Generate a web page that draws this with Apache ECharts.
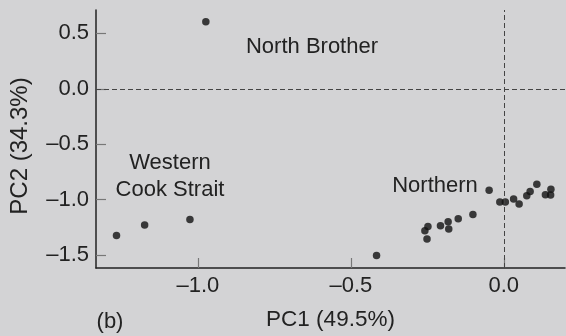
<!DOCTYPE html>
<html>
<head>
<meta charset="utf-8">
<script src="https://cdn.jsdelivr.net/npm/echarts@6/dist/echarts.min.js"></script>
<style>
  html, body { margin: 0; padding: 0; background: #d3d3d5; }
  #chart { width: 566px; height: 336px; }
</style>
</head>
<body>
<div id="chart"></div>
<script>
// PCA scores: first two principal components per sample
const pc1 = [-0.974, -1.266, -1.174, -1.026, -0.416, -0.251, -0.258, -0.248, -0.207,
             -0.182, -0.180, -0.149, -0.101, -0.048, -0.013, 0.005, 0.032, 0.050,
             0.075, 0.086, 0.108, 0.136, 0.154, 0.153];
const pc2 = [0.604, -1.324, -1.229, -1.179, -1.503, -1.354, -1.280, -1.241, -1.235,
             -1.199, -1.265, -1.173, -1.134, -0.914, -1.021, -1.021, -0.994, -1.039,
             -0.964, -0.926, -0.860, -0.955, -0.905, -0.958];
const xTicks = [-1.0, -0.5, 0.0];
const yTicks = [-1.5, -1.0, -0.5, 0.0, 0.5];
const xTitle = 'PC1 (49.5%)';
const yTitle = 'PC2 (34.3%)';
const groupLabels = ['North Brother', 'Western\nCook Strait', 'Northern'];
const panelTag = '(b)';

const FONT = "'Liberation Sans', Arial, Helvetica, sans-serif";
const TXT = '#222';
const fmt = v => (v < 0 ? '\u2013' : '') + Math.abs(v).toFixed(1);

const points = pc1.map((x, i) => [x, pc2[i]]);

const chart = echarts.init(document.getElementById('chart'));
chart.setOption({
  backgroundColor: '#d3d3d5',
  animation: false,
  grid: { left: 96, right: 1, top: 10, bottom: 65 },
  xAxis: {
    type: 'value', min: -1.333, max: 0.2,
    splitLine: { show: false },
    axisLine: { show: true, onZero: false, lineStyle: { color: '#222', width: 1.5 } },
    axisTick: { show: true, inside: true, length: 10, customValues: xTicks, lineStyle: { color: '#777', width: 1.2 } },
    axisLabel: { customValues: xTicks, formatter: fmt, fontFamily: FONT, fontSize: 22, color: TXT, margin: 7 },
    name: xTitle, nameLocation: 'middle', nameGap: 40,
    nameTextStyle: { fontFamily: FONT, fontSize: 22.5, color: TXT }
  },
  yAxis: {
    type: 'value', min: -1.616, max: 0.71,
    splitLine: { show: false },
    axisLine: { show: true, onZero: false, lineStyle: { color: '#222', width: 1.5 } },
    axisTick: { show: true, inside: true, length: 10, customValues: yTicks, lineStyle: { color: '#777', width: 1.2 } },
    axisLabel: { customValues: yTicks, formatter: fmt, fontFamily: FONT, fontSize: 22, color: TXT, margin: 7 }
  },
  series: [{
    type: 'scatter',
    data: points,
    symbolSize: 7.5,
    itemStyle: { color: '#111' },
    markLine: {
      silent: true,
      symbol: 'none',
      label: { show: false },
      lineStyle: { color: '#444', width: 1, type: [5, 3] },
      data: [{ xAxis: 0 }, { yAxis: 0 }]
    }
  }],
  graphic: [
    // vertical axis title, rotated to read bottom-to-top
    { type: 'text', x: 20, y: 146, rotation: Math.PI / 2, style: { text: yTitle, font: `24px ${FONT}`, fill: TXT, align: 'center', verticalAlign: 'middle' } },
    { type: 'text', x: 312, y: 47, style: { text: groupLabels[0], font: `22px ${FONT}`, fill: TXT, align: 'center', verticalAlign: 'middle' } },
    { type: 'text', x: 170, y: 176, style: { text: groupLabels[1], font: `22px ${FONT}`, fill: TXT, align: 'center', verticalAlign: 'middle', lineHeight: 27 } },
    { type: 'text', x: 435, y: 186, style: { text: groupLabels[2], font: `22px ${FONT}`, fill: TXT, align: 'center', verticalAlign: 'middle' } },
    { type: 'text', x: 110, y: 322, style: { text: panelTag, font: `22px ${FONT}`, fill: TXT, align: 'center', verticalAlign: 'middle' } }
  ]
});
</script>
</body>
</html>
